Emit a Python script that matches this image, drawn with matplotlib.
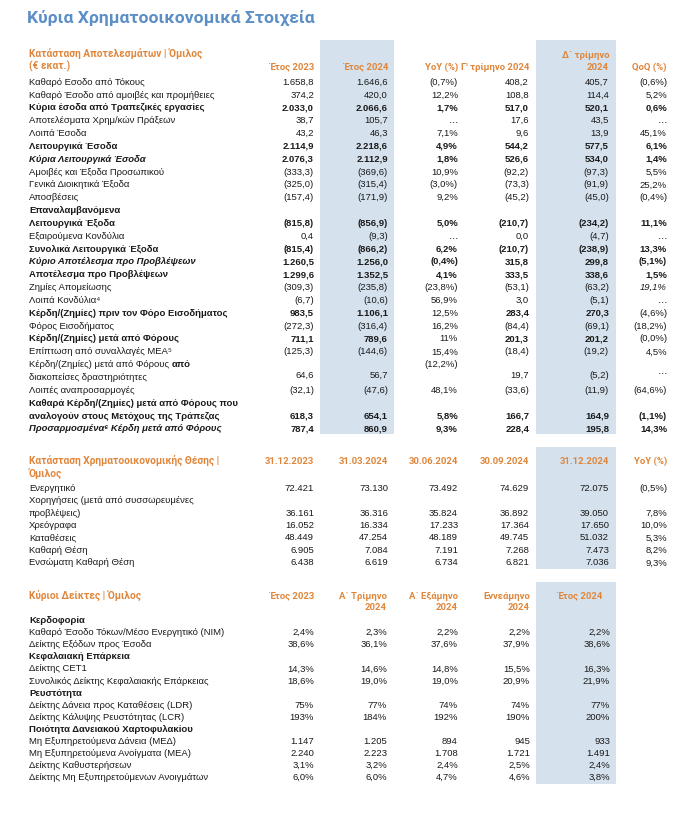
import matplotlib
matplotlib.use("Agg")
import matplotlib.pyplot as plt
from matplotlib.patches import Rectangle

plt.rcParams['font.family'] = ['Liberation Sans', 'DejaVu Sans']

ORANGE = '#e0863a'
BLUE = '#5b8fc6'
SHADE = '#d5e1ed'
INK = '#1a1a1a'

TITLE = "Κύρια Χρηματοοικονομικά Στοιχεία"

# ---------------- Κατάσταση Αποτελεσμάτων
is_header = ["Κατάσταση Αποτελεσμάτων | Όμιλος", "(€ εκατ.)"]
is_cols = ["Έτος 2023", "Έτος 2024", "YoY (%)", "Γ' τρίμηνο 2024", "Δ΄ τρίμηνο\n2024", "QoQ (%)"]
is_labels = [
    "Καθαρό Εσοδο από Τόκους",
    "Καθαρό Έσοδο από αμοιβές και προμήθειες",
    "Κύρια έσοδα από Τραπεζικές εργασίες",
    "Αποτελέσματα Χρημ/κών Πράξεων",
    "Λοιπά Έσοδα",
    "Λειτουργικά Έσοδα",
    "Κύρια Λειτουργικά Έσοδα",
    "Αμοιβές και Έξοδα Προσωπικού",
    "Γενικά Διοικητικά Έξοδα",
    "Αποσβέσεις",
    "Επαναλαμβανόμενα\nΛειτουργικά Έξοδα",
    "Εξαιρούμενα Κονδύλια",
    "Συνολικά Λειτουργικά Έξοδα",
    "Κύριο Αποτέλεσμα προ Προβλέψεων",
    "Αποτέλεσμα προ Προβλέψεων",
    "Ζημίες Απομείωσης",
    "Λοιπά Κονδύλια⁴",
    "Κέρδη/(Ζημίες) πριν τον Φόρο Εισοδήματος",
    "Φόρος Εισοδήματος",
    "Κέρδη/(Ζημίες) μετά από Φόρους",
    "Επίπτωση από συναλλαγές ΜΕΑ⁵",
    "Κέρδη/(Ζημίες) μετά από Φόρους\nδιακοπείσες δραστηριότητες",
    "Λοιπές αναπροσαρμογές",
    "Καθαρά Κέρδη/(Ζημίες) μετά από Φόρους που\nαναλογούν στους Μετόχους της Τράπεζας",
    "Προσαρμοσμένα⁶ Κέρδη μετά από Φόρους",
]
# n = normal, b = bold, bi = bold italic
is_label_style = ["n", "n", "b", "n", "n", "b", "bi", "n", "n", "n", "b", "n", "b", "bi",
                  "b", "n", "n", "b", "n", "b", "n", "n", "n", "b", "bi"]
is_bold_suffix = {21: "από"}
is_y2023 = ["1.658,8", "374,2", "2.033,0", "38,7", "43,2", "2.114,9", "2.076,3", "(333,3)",
            "(325,0)", "(157,4)", "(815,8)", "0,4", "(815,4)", "1.260,5", "1.299,6", "(309,3)",
            "(6,7)", "983,5", "(272,3)", "711,1", "(125,3)", "64,6", "(32,1)", "618,3", "787,4"]
is_y2024 = ["1.646,6", "420,0", "2.066,6", "105,7", "46,3", "2.218,6", "2.112,9", "(369,6)",
            "(315,4)", "(171,9)", "(856,9)", "(9,3)", "(866,2)", "1.256,0", "1.352,5", "(235,8)",
            "(10,6)", "1.106,1", "(316,4)", "789,6", "(144,6)", "56,7", "(47,6)", "654,1", "860,9"]
is_yoy = ["(0,7%)", "12,2%", "1,7%", "…", "7,1%", "4,9%", "1,8%", "10,9%", "(3,0%)", "9,2%",
          "5,0%", "…", "6,2%", "(0,4%)", "4,1%", "(23,8%)", "56,9%", "12,5%", "16,2%", "11%",
          "15,4%", "(12,2%)", "48,1%", "5,8%", "9,3%"]
is_q3 = ["408,2", "108,8", "517,0", "17,6", "9,6", "544,2", "526,6", "(92,2)", "(73,3)", "(45,2)",
         "(210,7)", "0,0", "(210,7)", "315,8", "333,5", "(53,1)", "3,0", "283,4", "(84,4)",
         "201,3", "(18,4)", "19,7", "(33,6)", "166,7", "228,4"]
is_q4 = ["405,7", "114,4", "520,1", "43,5", "13,9", "577,5", "534,0", "(97,3)", "(91,9)", "(45,0)",
         "(234,2)", "(4,7)", "(238,9)", "299,8", "338,6", "(63,2)", "(5,1)", "270,3", "(69,1)",
         "201,2", "(19,2)", "(5,2)", "(11,9)", "164,9", "195,8"]
is_qoq = ["(0,6%)", "5,2%", "0,6%", "…", "45,1%", "6,1%", "1,4%", "5,5%", "25,2%", "(0,4%)",
          "11,1%", "…", "13,3%", "(5,1%)", "1,5%", "19,1%", "…", "(4,6%)", "(18,2%)", "(0,0%)",
          "4,5%", "…", "(64,6%)", "(1,1%)", "14,3%"]
# per value cell: n normal, b bold, i italic
is_value_style = ["nnnnnn", "nnnnnn", "bbbbbb", "nnnnnn", "nnnnnn", "bbbbbb", "bbbbbb", "nnnnnn",
                  "nnnnnn", "nnnnnn", "bbbbbb", "nnnnnn", "bbbbbb", "bbbbbb", "bbbbbb", "nnnnni",
                  "nnnnnn", "bbnbbn", "nnnnnn", "bbnbbn", "nnnnnn", "nnnnnn", "nnnnnn", "bbbbbb",
                  "bbbbbb"]

# ---------------- Κατάσταση Χρηματοοικονομικής Θέσης
bs_header = ["Κατάσταση Χρηματοοικονομικής Θέσης |", "Όμιλος"]
bs_cols = ["31.12.2023", "31.03.2024", "30.06.2024", "30.09.2024", "31.12.2024", "YoY (%)"]
bs_labels = ["Ενεργητικό", "Χορηγήσεις (μετά από συσσωρευμένες\nπροβλέψεις)", "Χρεόγραφα",
             "Καταθέσεις", "Καθαρή Θέση", "Ενσώματη Καθαρή Θέση"]
bs_d2023 = ["72.421", "36.161", "16.052", "48.449", "6.905", "6.438"]
bs_m2024 = ["73.130", "36.316", "16.334", "47.254", "7.084", "6.619"]
bs_j2024 = ["73.492", "35.824", "17.233", "48.189", "7.191", "6.734"]
bs_s2024 = ["74.629", "36.892", "17.364", "49.745", "7.268", "6.821"]
bs_d2024 = ["72.075", "39.050", "17.650", "51.032", "7.473", "7.036"]
bs_yoy = ["(0,5%)", "7,8%", "10,0%", "5,3%", "8,2%", "9,3%"]

# ---------------- Κύριοι Δείκτες
kr_header = "Κύριοι Δείκτες | Όμιλος"
kr_cols = ["Έτος 2023", "Α΄ Τρίμηνο\n2024", "Α΄ Εξάμηνο\n2024", "Εννεάμηνο\n2024", "Έτος 2024"]
kr_labels = ["Κερδοφορία", "Καθαρό Έσοδο Τόκων/Μέσο Ενεργητικό (NIM)", "Δείκτης Εξόδων προς Έσοδα",
             "Κεφαλαιακή Επάρκεια", "Δείκτης CET1", "Συνολικός Δείκτης Κεφαλαιακής Επάρκειας",
             "Ρευστότητα", "Δείκτης Δάνεια προς Καταθέσεις (LDR)",
             "Δείκτης Κάλυψης Ρευστότητας (LCR)", "Ποιότητα Δανειακού Χαρτοφυλακίου",
             "Μη Εξυπηρετούμενα Δάνεια (ΜΕΔ)", "Μη Εξυπηρετούμενα Ανοίγματα (ΜΕΑ)",
             "Δείκτης Καθυστερήσεων", "Δείκτης Μη Εξυπηρετούμενων Ανοιγμάτων"]
kr_y2023 = ["", "2,4%", "38,6%", "", "14,3%", "18,6%", "", "75%", "193%", "", "1.147", "2.240", "3,1%", "6,0%"]
kr_q1 = ["", "2,3%", "36,1%", "", "14,6%", "19,0%", "", "77%", "184%", "", "1.205", "2.223", "3,2%", "6,0%"]
kr_h1 = ["", "2,2%", "37,6%", "", "14,8%", "19,0%", "", "74%", "192%", "", "894", "1.708", "2,4%", "4,7%"]
kr_9m = ["", "2,2%", "37,9%", "", "15,5%", "20,9%", "", "74%", "190%", "", "945", "1.721", "2,5%", "4,6%"]
kr_y2024 = ["", "2,2%", "38,6%", "", "16,3%", "21,9%", "", "77%", "200%", "", "933", "1.491", "2,4%", "3,8%"]

# ---------------- drawing
FS = 6.8
HFS = 6.8
SFS = 7.3  # section titles
HEAD_FONT = ['Roboto', 'Liberation Sans', 'DejaVu Sans']
fig = plt.figure(figsize=(6.83, 8.17), dpi=100)
ax = fig.add_axes([0, 0, 1, 1])
ax.set_xlim(0, 683)
ax.set_ylim(817, 0)
ax.axis('off')

LX = 29
sec1_x = [314, 388, 458, 529, 609, 667]
sec3_x = [314, 387, 458, 530, 610]


def shade(x0, x1, y0, y1):
    ax.add_patch(Rectangle((x0, y0), x1 - x0, y1 - y0, color=SHADE, lw=0, zorder=0))


def txt(x, y, s, ha='left', style='n', color=INK, size=FS, **kw):
    return ax.text(x, y + 3, s, ha=ha, va='baseline', color=color, fontsize=size,
                   fontweight='bold' if 'b' in style else 'normal',
                   fontstyle='italic' if 'i' in style else 'normal', **kw)


def head(x, y, s, ha='left', size=HFS):
    return ax.text(x, y + 3, s, ha=ha, va='baseline', color=ORANGE, fontsize=size,
                   fontweight='bold', family=HEAD_FONT)


def header_cell(x, y_last, s, step, ha='right'):
    lines = s.split('\n')
    for k, line in enumerate(lines):
        head(x, y_last - (len(lines) - 1 - k) * step, line, ha=ha)


ax.text(27, 18, TITLE, ha='left', va='center', color=BLUE, fontsize=12.6, fontweight='bold',
        family=['Roboto', 'Liberation Sans', 'DejaVu Sans'])

# section 1
shade(320, 394, 40, 434)
shade(536, 616, 40, 434)
step1 = 12.84
head(LX, 54, is_header[0], size=SFS)
head(LX, 66.5, is_header[1], size=SFS)
for j, c in enumerate(is_cols):
    header_cell(sec1_x[j], 66.5, c, 12)

fig.canvas.draw()
y = 81.7
cols1 = [is_y2023, is_y2024, is_yoy, is_q3, is_q4, is_qoq]
for i, lab in enumerate(is_labels):
    lines = lab.split('\n')
    for k, line in enumerate(lines):
        t = txt(LX, y + k * step1, line, style=is_label_style[i])
        if k == 0 and i in is_bold_suffix:
            bb = t.get_window_extent(fig.canvas.get_renderer())
            xe = ax.transData.inverted().transform((bb.x1, 0))[0]
            txt(xe + 3, y, is_bold_suffix[i], style='b')
    yv = y + (len(lines) - 1) * step1
    for j, col in enumerate(cols1):
        yy = yv
        if len(lines) == 2 and i in is_bold_suffix:
            yy = y if j == 2 else (y + yv) / 2 if col[i] == "…" else yv - 2
        txt(sec1_x[j], yy, col[i], ha='right', style=is_value_style[i][j])
    y += len(lines) * step1

# section 2
shade(536, 616, 447, 569)
head(LX, 461, bs_header[0], size=SFS)
head(LX, 473.5, bs_header[1], size=SFS)
for j, c in enumerate(bs_cols):
    header_cell(sec1_x[j], 461, c, 12)
cols2 = [bs_d2023, bs_m2024, bs_j2024, bs_s2024, bs_d2024, bs_yoy]
y = 487.7
step2 = 12.45
for i, lab in enumerate(bs_labels):
    lines = lab.split('\n')
    for k, line in enumerate(lines):
        txt(LX, y + k * step2, line)
    yv = y + (len(lines) - 1) * step2
    for j, col in enumerate(cols2):
        txt(sec1_x[j], yv, col[i], ha='right')
    y += len(lines) * step2

# section 3
shade(536, 616, 582, 784)
head(LX, 595.7, kr_header, size=SFS)
for j, c in enumerate(kr_cols):
    n = c.count('\n')
    xh = 602 if j == 4 else sec3_x[j]
    header_cell(xh, 595.7 + n * 11.6, c, 11.6)
cols3 = [kr_y2023, kr_q1, kr_h1, kr_9m, kr_y2024]
step3 = 12.1
for i, lab in enumerate(kr_labels):
    yy = 620 + i * step3
    heading = kr_y2023[i] == ""
    txt(LX, yy, lab, style='b' if heading else 'n')
    for j, col in enumerate(cols3):
        txt(sec3_x[j], yy, col[i], ha='right')

fig.savefig('out.png', dpi=100)
